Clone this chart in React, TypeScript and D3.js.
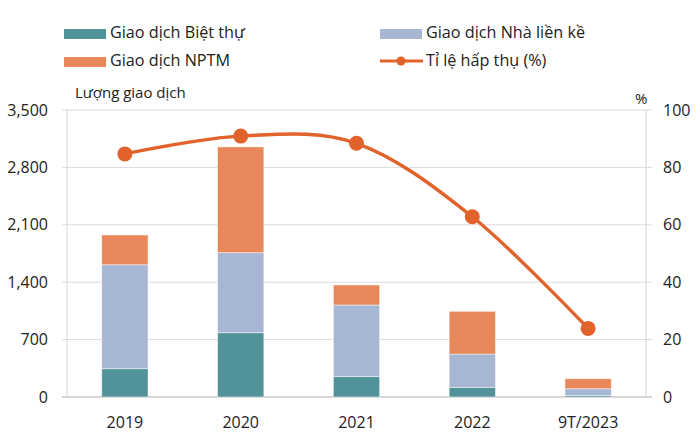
import React, { useEffect, useRef } from 'react';
import * as d3 from 'd3';

const years = ['2019', '2020', '2021', '2022', '9T/2023'];
const bietThu = [345, 784, 248, 118, 20];
const lienKe = [1268, 976, 874, 406, 81];
const nptm = [363, 1290, 244, 521, 122];
const hapThu = [84.7, 90.9, 88.4, 62.8, 23.9];
const leftTicks = [0, 700, 1400, 2100, 2800, 3500];
const rightTicks = [0, 20, 40, 60, 80, 100];

const seriesNames = ['Giao dịch Biệt thự', 'Giao dịch Nhà liền kề', 'Giao dịch NPTM'];
const lineName = 'Tỉ lệ hấp thụ (%)';
const colors = ['#52939a', '#a6b6d3', '#e8885a'];
const lineColor = '#e2622b';

const FONT = '"Open Sans", "DejaVu Sans", sans-serif';

const App = () => {
  const ref = useRef<SVGSVGElement | null>(null);

  useEffect(() => {
    if (!ref.current) return;
    const svg = d3.select(ref.current);
    svg.selectAll('*').remove();

    const left = 67, right = 646, top = 110, bottom = 397;

    const x = d3.scaleBand().domain(years).range([left, right]).padding(0);
    const yL = d3.scaleLinear().domain([0, 3500]).range([bottom, top]);
    const yR = d3.scaleLinear().domain([0, 100]).range([bottom, top]);

    // gridlines
    svg.append('g')
      .selectAll('line')
      .data(leftTicks)
      .enter().append('line')
      .attr('x1', left - 5).attr('x2', right + 6)
      .attr('y1', (d) => yL(d)).attr('y2', (d) => yL(d))
      .attr('stroke', (d) => (d === 0 ? '#c8c8c8' : '#dcdcdc'))
      .attr('stroke-width', (d) => (d === 0 ? 1.5 : 1));

    // frame sides
    svg.append('line').attr('x1', left).attr('x2', left).attr('y1', top).attr('y2', bottom)
      .attr('stroke', '#d6d6d6');
    svg.append('line').attr('x1', right).attr('x2', right).attr('y1', top).attr('y2', bottom)
      .attr('stroke', '#d6d6d6');

    // left tick labels
    svg.append('g')
      .selectAll('text')
      .data(leftTicks)
      .enter().append('text')
      .attr('x', 48).attr('y', (d) => yL(d) + 5.5)
      .attr('text-anchor', 'end')
      .style('font-family', FONT).style('font-size', '16px').attr('fill', '#222')
      .text((d) => d3.format(',')(d));

    // right tick labels
    svg.append('g')
      .selectAll('text')
      .data(rightTicks)
      .enter().append('text')
      .attr('x', 663).attr('y', (d) => yR(d) + 5.5)
      .style('font-family', FONT).style('font-size', '16px').attr('fill', '#222')
      .text((d) => d);

    // x labels
    svg.append('g')
      .selectAll('text')
      .data(years)
      .enter().append('text')
      .attr('x', (d) => x(d) + x.bandwidth() / 2).attr('y', 428)
      .attr('text-anchor', 'middle')
      .style('font-family', FONT).style('font-size', '16px').attr('fill', '#222')
      .text((d) => d);

    // stacked bars
    const rows = years.map((y, i) => ({ year: y, a: bietThu[i], b: lienKe[i], c: nptm[i] }));
    const stacked = d3.stack<any>().keys(['a', 'b', 'c'])(rows);
    const barW = x.bandwidth() * 0.4;

    svg.append('g')
      .selectAll('g')
      .data(stacked)
      .enter().append('g')
      .attr('fill', (d, i) => colors[i])
      .selectAll('rect')
      .data((d) => d)
      .enter().append('rect')
      .attr('x', (d) => x(d.data.year) + x.bandwidth() / 2 - barW / 2)
      .attr('y', (d) => yL(d[1]))
      .attr('width', barW)
      .attr('height', (d) => yL(d[0]) - yL(d[1]))
      .attr('stroke', '#ffffff')
      .attr('stroke-opacity', 0.6)
      .attr('stroke-width', 0.8);

    // line
    const line = d3.line<number>()
      .x((d, i) => x(years[i]) + x.bandwidth() / 2)
      .y((d) => yR(d))
      .curve(d3.curveCardinal.tension(0));

    svg.append('path')
      .datum(hapThu)
      .attr('d', line)
      .attr('fill', 'none')
      .attr('stroke', lineColor)
      .attr('stroke-width', 3.4);

    svg.append('g')
      .selectAll('circle')
      .data(hapThu)
      .enter().append('circle')
      .attr('cx', (d, i) => x(years[i]) + x.bandwidth() / 2)
      .attr('cy', (d) => yR(d))
      .attr('r', 7.5)
      .attr('fill', lineColor);

    // axis titles
    svg.append('text').attr('x', 75).attr('y', 98)
      .style('font-family', FONT).style('font-size', '15px').attr('fill', '#222')
      .text('Lượng giao dịch');
    svg.append('text').attr('x', 635).attr('y', 104)
      .style('font-family', FONT).style('font-size', '15px').attr('fill', '#222')
      .text('%');

    // legend
    const legendItems = [
      { name: seriesNames[0], color: colors[0], sx: 64, ty: 38, type: 'bar' },
      { name: seriesNames[1], color: colors[1], sx: 380, ty: 38, type: 'bar' },
      { name: seriesNames[2], color: colors[2], sx: 64, ty: 66, type: 'bar' },
      { name: lineName, color: lineColor, sx: 380, ty: 66, type: 'line' },
    ];
    const lg = svg.append('g');
    legendItems.forEach((it) => {
      if (it.type === 'bar') {
        lg.append('rect').attr('x', it.sx).attr('y', it.ty - 9).attr('width', 42).attr('height', 10)
          .attr('fill', it.color);
      } else {
        lg.append('line').attr('x1', it.sx).attr('x2', it.sx + 43)
          .attr('y1', it.ty - 5).attr('y2', it.ty - 5)
          .attr('stroke', it.color).attr('stroke-width', 3.2);
        lg.append('circle').attr('cx', it.sx + 21).attr('cy', it.ty - 5).attr('r', 4.5)
          .attr('fill', it.color);
      }
      lg.append('text').attr('x', it.sx + 46).attr('y', it.ty)
        .style('font-family', FONT).style('font-size', '16.2px').attr('fill', '#222')
        .text(it.name);
    });
  }, []);

  return (
    <svg
      ref={ref}
      width={700}
      height={445}
      style={{ position: 'absolute', left: 0, top: 0, background: '#fff' }}
    />
  );
};

export default App;
